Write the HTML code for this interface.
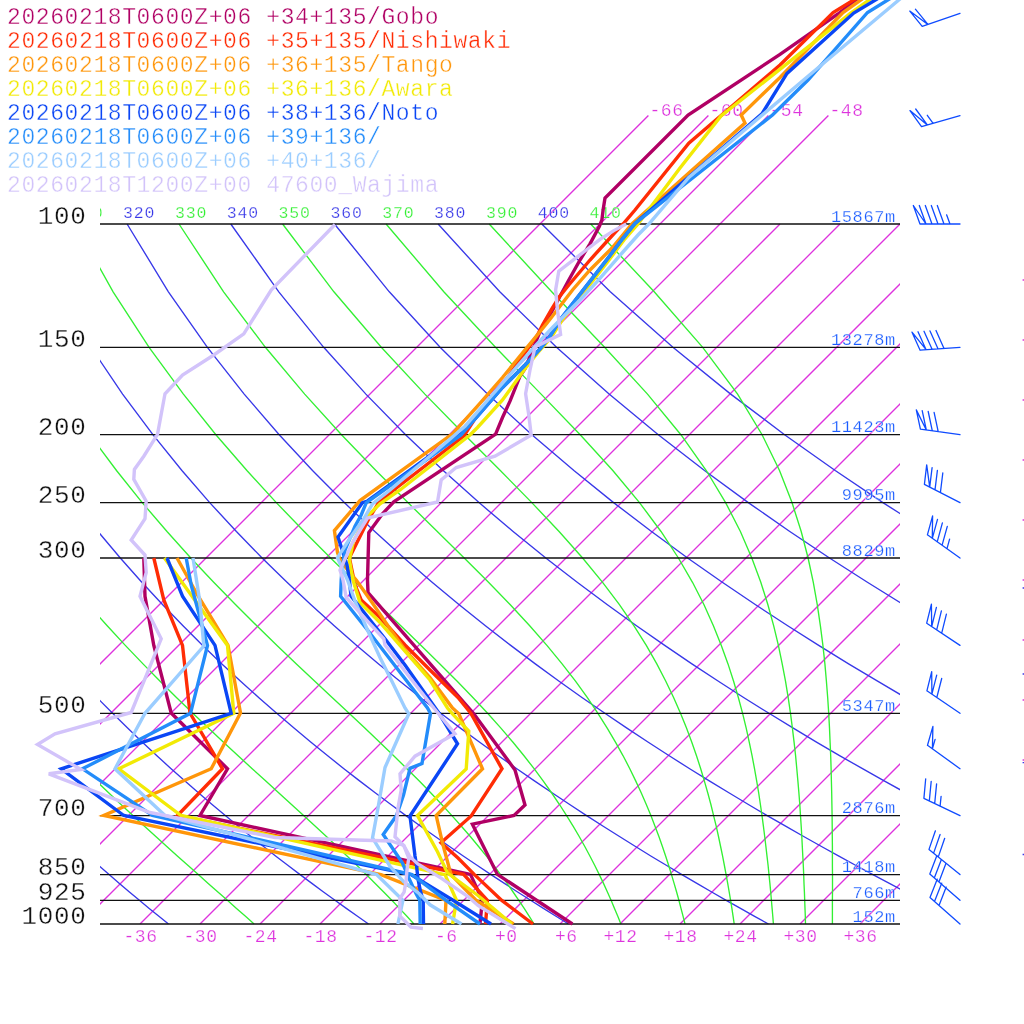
<!DOCTYPE html>
<html lang="en"><head><meta charset="utf-8"><title>Emagram 2026-02-18</title>
<style>html,body{margin:0;padding:0;background:#fff;overflow:hidden}svg{display:block}text{font-family:'Liberation Mono','DejaVu Sans Mono',monospace;}</style></head><body>
<svg width="1024" height="1024" viewBox="0 0 1024 1024">
<defs><clipPath id="cp"><rect x="100" y="0" width="800" height="924.8"/></clipPath></defs>
<rect width="1024" height="1024" fill="#fff"/>
<g font-size="23" letter-spacing="0.6" stroke="#fff" stroke-width="0.4">
<text x="7.0" y="24.4" fill="#b00064" xml:space="preserve">20260218T0600Z+06 +34+135/Gobo</text>
<text x="7.0" y="48.4" fill="#ff2c05" xml:space="preserve">20260218T0600Z+06 +35+135/Nishiwaki</text>
<text x="7.0" y="72.4" fill="#ff960a" xml:space="preserve">20260218T0600Z+06 +36+135/Tango</text>
<text x="7.0" y="96.4" fill="#f2ea05" xml:space="preserve">20260218T0600Z+06 +36+136/Awara</text>
<text x="7.0" y="120.4" fill="#0a46f5" xml:space="preserve">20260218T0600Z+06 +38+136/Noto</text>
<text x="7.0" y="144.4" fill="#238cfa" xml:space="preserve">20260218T0600Z+06 +39+136/</text>
<text x="7.0" y="168.4" fill="#9bcdff" xml:space="preserve">20260218T0600Z+06 +40+136/</text>
<text x="7.0" y="192.4" fill="#d2c3fa" xml:space="preserve">20260218T1200Z+00 47600_Wajima</text>
</g>
<g clip-path="url(#cp)" fill="none">
<path d="M-160,924 L648.4,115.6 M-100,924 L708.4,115.6 M-40,924 L768.4,115.6 M20,924 L828.4,115.6 M80,924 L780,224 M140,924 L840,224 M200,924 L900,224 M260,924 L960,224 M320,924 L1020,224 M380,924 L1080,224 M440,924 L1140,224 M500,924 L1200,224 M560,924 L1260,224 M620,924 L1320,224 M680,924 L1380,224 M740,924 L1440,224 M800,924 L1500,224 M860,924 L1560,224" stroke="#dd33dd" stroke-width="1.35"/>
<path d="M-287.5,224 L-273.6,291.8 L-258.2,347.3 L-242.2,394.1 L-226.1,434.7 L-210.1,470.5 L-194.3,502.6 L-178.7,531.5 L-163.4,558 L-148.4,582.3 L-133.7,604.8 L-119.3,625.8 L-105.2,645.4 L-91.4,663.9 L-77.8,681.2 L-64.6,697.7 L-51.5,713.3 L-38.8,728.1 L-26.2,742.3 L-13.9,755.8 L-1.8,768.7 L10.1,781.1 L21.8,793 L33.3,804.5 L44.6,815.6 L55.8,826.2 L66.8,836.5 L77.6,846.5 L88.3,856.2 L98.8,865.5 L109.1,874.6 L119.4,883.4 L129.4,892 L139.4,900.3 L149.2,908.4 L158.9,916.3 L168.5,924 M-183.9,224 L-163.1,291.8 L-141.8,347.3 L-120.6,394.1 L-99.8,434.7 L-79.4,470.5 L-59.6,502.6 L-40.3,531.5 L-21.6,558 L-3.3,582.3 L14.5,604.8 L31.9,625.8 L48.8,645.4 L65.3,663.9 L81.4,681.2 L97.1,697.7 L112.6,713.3 L127.6,728.1 L142.4,742.3 L156.9,755.8 L171.1,768.7 L185,781.1 L198.7,793 L212.1,804.5 L225.3,815.6 L238.3,826.2 L251,836.5 L263.6,846.5 L275.9,856.2 L288.1,865.5 L300.1,874.6 L311.9,883.4 L323.5,892 L335,900.3 L346.3,908.4 L357.5,916.3 L368.5,924 M-80.2,224 L-52.6,291.8 L-25.4,347.3 L1,394.1 L26.6,434.7 L51.2,470.5 L75,502.6 L98,531.5 L120.3,558 L141.8,582.3 L162.7,604.8 L183,625.8 L202.7,645.4 L221.9,663.9 L240.6,681.2 L258.9,697.7 L276.7,713.3 L294,728.1 L311,742.3 L327.7,755.8 L343.9,768.7 L359.9,781.1 L375.5,793 L390.9,804.5 L405.9,815.6 L420.7,826.2 L435.2,836.5 L449.5,846.5 L463.6,856.2 L477.4,865.5 L491,874.6 L504.4,883.4 L517.6,892 L530.6,900.3 L543.4,908.4 L556,916.3 L568.5,924 M23.5,224 L57.9,291.8 L91,347.3 L122.6,394.1 L152.9,434.7 L181.9,470.5 L209.7,502.6 L236.4,531.5 L262.1,558 L287,582.3 L311,604.8 L334.2,625.8 L356.7,645.4 L378.6,663.9 L399.9,681.2 L420.6,697.7 L440.8,713.3 L460.4,728.1 L479.7,742.3 L498.4,755.8 L516.8,768.7 L534.8,781.1 L552.4,793 L569.7,804.5 L586.6,815.6 L603.2,826.2 L619.5,836.5 L635.5,846.5 L651.2,856.2 L666.7,865.5 L681.9,874.6 L696.9,883.4 L711.7,892 L726.2,900.3 L740.5,908.4 L754.6,916.3 L768.5,924 M127.1,224 L168.4,291.8 L207.4,347.3 L244.2,394.1 L279.2,434.7 L312.5,470.5 L344.3,502.6 L374.8,531.5 L404,558 L432.1,582.3 L459.2,604.8 L485.4,625.8 L510.7,645.4 L535.3,663.9 L559.1,681.2 L582.3,697.7 L604.9,713.3 L626.9,728.1 L648.3,742.3 L669.2,755.8 L689.7,768.7 L709.7,781.1 L729.3,793 L748.4,804.5 L767.2,815.6 L785.6,826.2 L803.7,836.5 L821.5,846.5 L838.9,856.2 L856,865.5 L872.9,874.6 L889.4,883.4 L905.7,892 L921.8,900.3 L937.6,908.4 L953.2,916.3 L968.5,924 M230.8,224 L278.8,291.8 L323.7,347.3 L365.9,394.1 L405.6,434.7 L443.2,470.5 L479,502.6 L513.1,531.5 L545.8,558 L577.2,582.3 L607.4,604.8 L636.5,625.8 L664.7,645.4 L691.9,663.9 L718.4,681.2 L744,697.7 L769,713.3 L793.3,728.1 L816.9,742.3 L840,755.8 L862.5,768.7 L884.6,781.1 L906.1,793 L927.2,804.5 L947.9,815.6 L968.1,826.2 L988,836.5 L1007.4,846.5 L1026.6,856.2 L1045.3,865.5 L1063.8,874.6 L1082,883.4 L1099.8,892 L1117.4,900.3 L1134.7,908.4 L1151.7,916.3 L1168.5,924 M334.5,224 L389.3,291.8 L440.1,347.3 L487.5,394.1 L531.9,434.7 L573.9,470.5 L613.6,502.6 L651.5,531.5 L687.6,558 L722.3,582.3 L755.6,604.8 L787.7,625.8 L818.7,645.4 L848.6,663.9 L877.6,681.2 L905.7,697.7 L933.1,713.3 L959.7,728.1 L985.5,742.3 L1010.8,755.8 L1035.4,768.7 L1059.5,781.1 L1083,793 L1106,804.5 L1128.5,815.6 L1150.6,826.2 L1172.2,836.5 L1193.4,846.5 L1214.2,856.2 L1234.7,865.5 L1254.7,874.6 L1274.5,883.4 L1293.9,892 L1313,900.3 L1331.8,908.4 L1350.3,916.3 L1368.5,924 M438.1,224 L499.8,291.8 L556.5,347.3 L609.1,394.1 L658.3,434.7 L704.5,470.5 L748.3,502.6 L789.8,531.5 L829.5,558 L867.4,582.3 L903.8,604.8 L938.9,625.8 L972.6,645.4 L1005.3,663.9 L1036.8,681.2 L1067.5,697.7 L1097.2,713.3 L1126.1,728.1 L1154.2,742.3 L1181.6,755.8 L1208.3,768.7 L1234.4,781.1 L1259.8,793 L1284.8,804.5 L1309.1,815.6 L1333,826.2 L1356.4,836.5 L1379.4,846.5 L1401.9,856.2 L1424,865.5 L1445.7,874.6 L1467,883.4 L1488,892 L1508.6,900.3 L1528.9,908.4 L1548.8,916.3 L1568.5,924 M541.8,224 L610.3,291.8 L672.9,347.3 L730.7,394.1 L784.6,434.7 L835.2,470.5 L882.9,502.6 L928.2,531.5 L971.3,558 L1012.5,582.3 L1052.1,604.8 L1090,625.8 L1126.6,645.4 L1161.9,663.9 L1196.1,681.2 L1229.2,697.7 L1261.3,713.3 L1292.5,728.1 L1322.8,742.3 L1352.3,755.8 L1381.2,768.7 L1409.3,781.1 L1436.7,793 L1463.5,804.5 L1489.8,815.6 L1515.5,826.2 L1540.7,836.5 L1565.3,846.5 L1589.5,856.2 L1613.3,865.5 L1636.6,874.6 L1659.5,883.4 L1682,892 L1704.2,900.3 L1726,908.4 L1747.4,916.3 L1768.5,924" stroke="#3838e8" stroke-width="1.35"/>
<path d="M-235.7,224 L-218.3,291.8 L-200,347.3 L-181.4,394.1 L-163,434.7 L-144.8,470.5 L-127,502.6 L-109.5,531.5 L-92.5,558 L-75.9,582.3 L-59.6,604.8 L-43.8,625.8 L-28.3,645.4 L-13.1,663.9 L1.7,681.2 L16.1,697.7 L30.3,713.3 L44.1,728.1 L57.7,742.3 L70.9,755.8 L83.9,768.7 L96.5,781.1 L108.9,793 L121,804.5 L132.9,815.6 L144.5,826.2 L155.8,836.5 L166.8,846.5 L177.6,856.2 L188.1,865.5 L198.3,874.6 L208.2,883.4 L217.9,892 L227.4,900.3 L236.5,908.4 L245.5,916.3 L254.1,924 M-132,224 L-107.8,291.8 L-83.6,347.3 L-59.8,394.1 L-36.6,434.7 L-14.1,470.5 L7.7,502.6 L28.8,531.5 L49.3,558 L69.2,582.3 L88.5,604.8 L107.2,625.8 L125.3,645.4 L143,663.9 L160.1,681.2 L176.7,697.7 L192.8,713.3 L208.4,728.1 L223.5,742.3 L238.1,755.8 L252.2,768.7 L265.8,781.1 L278.9,793 L291.5,804.5 L303.6,815.6 L315.3,826.2 L326.4,836.5 L337.1,846.5 L347.3,856.2 L357,865.5 L366.3,874.6 L375.2,883.4 L383.7,892 L391.8,900.3 L399.5,908.4 L406.9,916.3 L413.9,924 M-28.4,224 L2.6,291.8 L32.8,347.3 L61.8,394.1 L89.7,434.7 L116.5,470.5 L142.2,502.6 L167,531.5 L190.8,558 L213.7,582.3 L235.7,604.8 L256.8,625.8 L277,645.4 L296.4,663.9 L314.8,681.2 L332.4,697.7 L349.1,713.3 L364.8,728.1 L379.7,742.3 L393.7,755.8 L406.9,768.7 L419.3,781.1 L430.9,793 L441.8,804.5 L451.9,815.6 L461.4,826.2 L470.3,836.5 L478.6,846.5 L486.4,856.2 L493.8,865.5 L500.6,874.6 L507.1,883.4 L513.1,892 L518.8,900.3 L524.2,908.4 L529.3,916.3 L534.1,924 M75.3,224 L113.1,291.8 L149.1,347.3 L183.4,394.1 L215.9,434.7 L246.9,470.5 L276.3,502.6 L304.2,531.5 L330.6,558 L355.5,582.3 L378.9,604.8 L400.8,625.8 L421.1,645.4 L439.9,663.9 L457.2,681.2 L473.1,697.7 L487.6,713.3 L500.9,728.1 L513,742.3 L524,755.8 L534.1,768.7 L543.3,781.1 L551.7,793 L559.5,804.5 L566.6,815.6 L573.1,826.2 L579.2,836.5 L584.8,846.5 L590,856.2 L594.8,865.5 L599.3,874.6 L603.5,883.4 L607.4,892 L611.1,900.3 L614.5,908.4 L617.8,916.3 L620.9,924 M179,224 L223.6,291.8 L265.4,347.3 L304.7,394.1 L341.5,434.7 L375.9,470.5 L407.9,502.6 L437.3,531.5 L464.2,558 L488.5,582.3 L510.3,604.8 L529.7,625.8 L546.9,645.4 L562.1,663.9 L575.5,681.2 L587.4,697.7 L597.9,713.3 L607.2,728.1 L615.6,742.3 L623.1,755.8 L629.8,768.7 L635.8,781.1 L641.3,793 L646.3,804.5 L650.9,815.6 L655,826.2 L658.9,836.5 L662.4,846.5 L665.7,856.2 L668.7,865.5 L671.5,874.6 L674.1,883.4 L676.6,892 L678.9,900.3 L681,908.4 L683.1,916.3 L685,924 M282.6,224 L333.9,291.8 L381.3,347.3 L424.9,394.1 L464.6,434.7 L500.3,470.5 L531.8,502.6 L559.1,531.5 L582.6,558 L602.6,582.3 L619.6,604.8 L634,625.8 L646.3,645.4 L656.8,663.9 L665.8,681.2 L673.7,697.7 L680.5,713.3 L686.5,728.1 L691.8,742.3 L696.5,755.8 L700.7,768.7 L704.4,781.1 L707.8,793 L710.9,804.5 L713.6,815.6 L716.2,826.2 L718.5,836.5 L720.6,846.5 L722.6,856.2 L724.4,865.5 L726.1,874.6 L727.7,883.4 L729.2,892 L730.6,900.3 L731.9,908.4 L733.1,916.3 L734.2,924 M386.1,224 L443.8,291.8 L495.5,347.3 L541.1,394.1 L580.2,434.7 L612.8,470.5 L639.5,502.6 L661,531.5 L678.4,558 L692.5,582.3 L704,604.8 L713.4,625.8 L721.3,645.4 L728,663.9 L733.6,681.2 L738.4,697.7 L742.6,713.3 L746.2,728.1 L749.3,742.3 L752.1,755.8 L754.5,768.7 L756.7,781.1 L758.7,793 L760.4,804.5 L762,815.6 L763.4,826.2 L764.7,836.5 L765.9,846.5 L767,856.2 L768.1,865.5 L769,874.6 L769.9,883.4 L770.7,892 L771.4,900.3 L772.1,908.4 L772.8,916.3 L773.4,924 M489.2,224 L551.7,291.8 L604.6,347.3 L647.5,394.1 L680.9,434.7 L706.3,470.5 L725.6,502.6 L740.4,531.5 L751.8,558 L760.8,582.3 L767.9,604.8 L773.7,625.8 L778.4,645.4 L782.2,663.9 L785.5,681.2 L788.2,697.7 L790.5,713.3 L792.4,728.1 L794.1,742.3 L795.6,755.8 L796.8,768.7 L797.9,781.1 L798.9,793 L799.8,804.5 L800.5,815.6 L801.2,826.2 L801.8,836.5 L802.3,846.5 L802.8,856.2 L803.3,865.5 L803.7,874.6 L804,883.4 L804.4,892 L804.7,900.3 L805,908.4 L805.3,916.3 L805.5,924 M590.7,224 L654.2,291.8 L702.7,347.3 L737.6,394.1 L762.1,434.7 L779.5,470.5 L792,502.6 L801.2,531.5 L808.1,558 L813.3,582.3 L817.3,604.8 L820.4,625.8 L822.9,645.4 L824.9,663.9 L826.4,681.2 L827.7,697.7 L828.7,713.3 L829.5,728.1 L830.1,742.3 L830.7,755.8 L831.1,768.7 L831.4,781.1 L831.7,793 L831.9,804.5 L832.1,815.6 L832.2,826.2 L832.3,836.5 L832.4,846.5 L832.4,856.2 L832.4,865.5 L832.5,874.6 L832.5,883.4 L832.5,892 L832.4,900.3 L832.4,908.4 L832.4,916.3 L832.4,924" stroke="#33f033" stroke-width="1.35"/>
<g font-size="16.5" letter-spacing="0.8" stroke="#fff" stroke-width="0.25">
<text x="19.5" y="217.5" fill="#3838e8">300</text>
<text x="71.3" y="217.5" fill="#33f033">310</text>
<text x="123.1" y="217.5" fill="#3838e8">320</text>
<text x="175" y="217.5" fill="#33f033">330</text>
<text x="226.8" y="217.5" fill="#3838e8">340</text>
<text x="278.6" y="217.5" fill="#33f033">350</text>
<text x="330.5" y="217.5" fill="#3838e8">360</text>
<text x="382.3" y="217.5" fill="#33f033">370</text>
<text x="434.1" y="217.5" fill="#3838e8">380</text>
<text x="486" y="217.5" fill="#33f033">390</text>
<text x="537.8" y="217.5" fill="#3838e8">400</text>
<text x="589.6" y="217.5" fill="#33f033">410</text>
</g>
</g>
<g font-size="18" letter-spacing="0.6" fill="#dd33dd" stroke="#fff" stroke-width="0.25">
<text x="649.4" y="115.6">-66</text>
<text x="709.4" y="115.6">-60</text>
<text x="769.4" y="115.6">-54</text>
<text x="829.4" y="115.6">-48</text>
<text x="157.7" y="942" text-anchor="end">-36</text>
<text x="217.7" y="942" text-anchor="end">-30</text>
<text x="277.7" y="942" text-anchor="end">-24</text>
<text x="337.7" y="942" text-anchor="end">-18</text>
<text x="397.7" y="942" text-anchor="end">-12</text>
<text x="457.7" y="942" text-anchor="end">-6</text>
<text x="517.7" y="942" text-anchor="end">+0</text>
<text x="577.7" y="942" text-anchor="end">+6</text>
<text x="637.7" y="942" text-anchor="end">+12</text>
<text x="697.7" y="942" text-anchor="end">+18</text>
<text x="757.7" y="942" text-anchor="end">+24</text>
<text x="817.7" y="942" text-anchor="end">+30</text>
<text x="877.7" y="942" text-anchor="end">+36</text>
</g>
<path d="M100,224 H900 M100,347.3 H900 M100,434.7 H900 M100,502.6 H900 M100,558 H900 M100,713.3 H900 M100,815.6 H900 M100,874.6 H900 M100,900.3 H900 M100,924 H900" stroke="#111" stroke-width="1.3" fill="none"/>
<g font-size="26" letter-spacing="0.65" fill="#111" text-anchor="end" stroke="#fff" stroke-width="0.35">
<text x="86.6" y="224">100</text>
<text x="86.6" y="347.3">150</text>
<text x="86.6" y="434.7">200</text>
<text x="86.6" y="502.6">250</text>
<text x="86.6" y="558">300</text>
<text x="86.6" y="713.3">500</text>
<text x="86.6" y="815.6">700</text>
<text x="86.6" y="874.6">850</text>
<text x="86.6" y="900.3">925</text>
<text x="86.6" y="924">1000</text>
</g>
<g font-size="17" letter-spacing="0.6" fill="#1a5cff" text-anchor="end" stroke="#fff" stroke-width="0.25">
<text x="895.8" y="221.5">15867m</text>
<text x="895.8" y="344.8">13278m</text>
<text x="895.8" y="432.2">11423m</text>
<text x="895.8" y="500.1">9995m</text>
<text x="895.8" y="555.5">8829m</text>
<text x="895.8" y="710.8">5347m</text>
<text x="895.8" y="813.1">2876m</text>
<text x="895.8" y="872.1">1418m</text>
<text x="895.8" y="897.8">766m</text>
<text x="895.8" y="921.5">152m</text>
</g>
<g fill="none" stroke-width="3.4" stroke-linejoin="miter" stroke-linecap="butt">
<polyline stroke="#b00064" points="870,-10 856,0 838,14 780,54.4 688.1,115 605,198.1 603.1,210 601.9,220 599.4,226.2 590,243.8 580,260 568.8,280 560,296.2 551.2,312.5 546.2,320 540.6,330 525,368.8 520,376.2 510,401.2 502.5,417.5 495.6,434.2 393.8,501.8 382.5,513.8 368.8,532.5 367.5,580 368,592.5 473.8,713.8 515,770 525,805 514,815.5 472.4,824.2 497.4,874.4 572.4,924"/>
<polyline stroke="#b00064" points="143.8,558 145,596.2 153.8,645.5 171.2,713 227.5,768.8 200,815.5 470.5,874.4 482.4,900.4 479.9,924"/>
<polyline stroke="#ff2c05" points="870,-10 833.1,12.5 780,65 688.8,143.1 635,210 623,224 615,232.5 590,260 568.8,285 558.8,297.5 551.2,310 542.5,325 537.5,335 527,350 503,384 478,414 463.8,436 393.8,490 378.8,502.5 368.8,518.8 349.4,557.8 355,585 361.2,600 380,617.5 405,645 430,670 458,697.5 471.2,713.8 502,768.8 471.2,816 441,842.8 458,858 474.2,874.4 501.8,900.4 533,924"/>
<polyline stroke="#ff2c05" points="153.8,558 163.8,600 182.5,645.4 190,713 222.5,768.8 177.5,815.5 463.6,874.4 487.4,900.4 485.5,924"/>
<polyline stroke="#ff960a" points="875,-10 843,12.5 780,77.5 741.2,115 745,123 694.4,168 631.9,224 612,248 590,270 572.5,290 560,306.2 547.5,322.5 527.5,346.9 502.5,377.5 477.5,406.2 452.5,433.8 360,500.6 334.4,530.6 337.5,552.5 341,562 356.2,580 371.2,601.2 390,628.8 405,650 430,677.5 452.5,708 458.8,713.8 482.5,768.8 436.2,815.6 442.5,843 451,874.6 476,900.3 513.6,924"/>
<polyline stroke="#ff960a" points="177,558 197.5,595 228,645.4 240.5,713 211.2,768.8 103.8,815.5 381,874.6 446,900.3 444.8,924"/>
<polyline stroke="#f2ea05" points="883,-10 850,13.7 721,116 680,168 638,224 624,240 609,260 591.5,282.5 574,305 561.5,321 551.5,337 540,350 525,368.8 502.5,400 477.5,427.5 470,435 400,490 380,503.8 367.5,516 353.5,541 349.4,560 353,580 360,602.5 380,622.5 405,651.2 430,680 447.5,708 452.5,713.8 468.8,731.2 466.2,769 417.5,815.6 437.5,851.8 447.5,873 478,895.5 511.8,924"/>
<polyline stroke="#f2ea05" points="164.5,558 227.5,645.4 233.8,713.3 118.8,768.8 181,815.5 445,874.6 456.5,900.3 452.6,924"/>
<polyline stroke="#0a46f5" points="892,-10 853.7,13.1 787,73.4 761.9,113.8 635,223.5 622.5,238.8 607.5,258.8 590,281.2 572.5,303.8 560,320 550,336.2 540,348.8 525,365 502.5,387.5 477.5,416.2 460,434 367.5,501 362.5,502.6 338,537 347,565 349.4,580 351,596 385,638.8 405,665 439,713.3 457.5,743.8 410,816 415,856 416.6,866 417.9,878.5 420.4,891 423.2,901 423.5,924"/>
<polyline stroke="#0a46f5" points="167,558 182.5,596.2 215,645.4 231.2,713.3 61.2,768.8 123.8,815.5 411,874.6 453,900.3 491,924"/>
<polyline stroke="#238cfa" points="904,-10 867.5,12.5 808,80 772.5,115 635,223.5 622.5,238.8 607.5,258.8 590,281.2 572.5,303.8 560,320 550,336.2 540,348.8 525,365 502.5,387.5 477.5,416.2 461,435 366.2,502.8 361.2,515 355,526.2 345,550 341.9,571.2 341.2,580 340.6,596.2 367.5,630 392.5,662.5 427.5,708 430.5,713.5 422,763.5 410,768.3 403.5,795 396.5,815.6 383.2,834.5 402.5,863 408.8,878 416,893.5 419.8,900.3 420.2,924"/>
<polyline stroke="#238cfa" points="186.2,558 191.2,585 207.5,645.4 190.5,713.3 82.5,768.8 152.5,815.5 412,874.6 446,900.3 480,924"/>
<polyline stroke="#9bcdff" points="910.6,-10 898.8,0 808,76.2 688.8,177.5 648.8,224 638,235 622.5,252.5 597.5,281.2 580,300 566.2,313.8 553,327 535,346.2 515,368.8 490,397.5 465,426.2 447.5,441.2 390,490 372.5,503.8 363.8,518.8 348.8,540 337.5,557.8 347.5,580 355,601.2 367.5,630 380,657.5 392.5,682.5 405,708 408.8,713.8 385,767.5 378,808 372.5,838 389.8,866 403.5,881.6 419,893.5 430,904.8 461.5,924"/>
<polyline stroke="#9bcdff" points="193,558 200,602.5 203.8,646 145,713.3 115,768.8 165,815.5 376.6,874.5 402.9,900.3 397.9,924"/>
<polyline stroke="#d2c3fa" points="626.2,224 613.8,230.6 600,239.4 586.2,250 558.8,271.2 555.6,290 557.5,310 560.6,334.4 535,346.9 530,370 525.6,393.8 528.8,415 531.2,435 495,456.2 456.2,467.5 441.2,480 437.5,502 367.5,518 352.5,542.5 340,570 343,580 346.2,597.5 367.5,621.2 383.8,638.8 385,645 405,671.2 433.8,708 455,733.8 415,756.2 400,773.8 401.2,790 398,808 395,836.8 403.8,845.5 410,856.8 417.8,864 441.5,878.4 468,896.5 478,905.5 515.5,928.6"/>
<polyline stroke="#d2c3fa" points="335,224.5 271.2,290 243.8,333.8 213.8,355 182.5,375 165,393.8 157.5,434.4 143.8,456.2 134.4,469.4 133.8,479.4 146.2,501.2 145,518.8 131.2,540 145,555 146.2,572.5 140,596.2 161.2,638.8 131.2,712.5 55,733.8 37.5,744.5 81,769.5 48.8,773.8 150,812.5 275,837.5 356,840 391.2,841 403.8,845.5 408.8,858 407,870 406,881.6 404.1,892.2 399.8,898.5 399.8,916 411,927.2 422.9,928.5"/>
</g>
<path d="M1022.6,280 H1024 M1022.6,340 H1024 M1022.6,400 H1024 M1022.6,460 H1024 M1022.6,520 H1024 M1022.6,580 H1024 M1022.6,640 H1024 M1022.6,700 H1024 M1022.6,760 H1024" stroke="#dd33dd" stroke-width="1.4" fill="none"/>
<path d="M1022.6,588 H1024 M1022.6,674 H1024 M1022.6,762.6 H1024 M1022.6,854.5 H1024" stroke="#3838e8" stroke-width="1.4" fill="none"/>
<g fill="none" stroke="#0f4bff" stroke-width="1.3" stroke-linecap="round" stroke-linejoin="round">
<path d="M960.0,13.3 L922.2,26.4 M922.2,26.4 L909.8,11.1 L927.9,24.4 M927.9,24.4 L915.4,9.2"/>
<path d="M960.0,115.6 L921.5,126.6 M921.5,126.6 L910.0,110.6 L927.3,124.9 M927.3,124.9 L915.7,109.0 M933.1,123.3 L927.3,115.3"/>
<path d="M960.0,224.0 L920.0,224.0 M920.0,224.0 L913.3,205.5 L926.0,224.0 M926.0,224.0 L919.3,205.5 M932.0,224.0 L925.3,205.5 M938.0,224.0 L931.3,205.5 M944.0,224.0 L937.3,205.5 M950.0,224.0 L946.6,214.8"/>
<path d="M960.0,347.3 L920.1,350.2 M920.1,350.2 L912.0,332.2 L926.1,349.7 M926.1,349.7 L918.0,331.8 M932.1,349.3 L924.0,331.3 M938.1,348.9 L930.0,330.9 M944.0,348.4 L936.0,330.5"/>
<path d="M960.0,434.7 L920.4,429.1 M920.4,429.1 L916.3,409.9 L926.3,430.0 M926.3,430.0 L922.2,410.7 M932.3,430.8 L928.2,411.5 M938.2,431.6 L934.1,412.4"/>
<path d="M960.0,502.6 L924.4,484.4 M924.4,484.4 L926.7,464.9 L929.7,487.1 M929.7,487.1 L932.1,467.6 M935.0,489.9 L937.4,470.3 M940.4,492.6 L942.8,473.0"/>
<path d="M960.0,558.0 L927.4,534.8 M927.4,534.8 L932.6,515.8 L932.3,538.3 M932.3,538.3 L937.5,519.3 M937.2,541.8 L942.4,522.8 M942.1,545.2 L947.3,526.3 M947.0,548.7 L949.6,539.2"/>
<path d="M960.0,645.4 L926.7,623.2 M926.7,623.2 L931.4,604.1 L931.7,626.6 M931.7,626.6 L936.4,607.4 M936.7,629.9 L941.4,610.8 M941.7,633.2 L946.4,614.1"/>
<path d="M960.0,713.3 L926.9,690.8 M926.9,690.8 L931.7,671.7 L931.9,694.2 M931.9,694.2 L936.7,675.1 M936.8,697.5 L941.7,678.5"/>
<path d="M960.0,768.7 L927.5,745.3 M927.5,745.3 L932.9,726.4 L932.4,748.8 M932.4,748.8 L935.1,739.4"/>
<path d="M960.0,815.6 L923.9,798.4 M923.9,798.4 L925.7,778.8 M929.3,801.0 L931.2,781.4 M934.7,803.5 L936.6,783.9 M940.1,806.1 L941.1,796.3"/>
<path d="M960.0,874.6 L929.0,849.4 M929.0,849.4 L935.4,830.8 M933.6,853.1 L940.1,834.5 M938.3,856.9 L944.7,838.3"/>
<path d="M960.0,900.3 L929.8,874.1 M929.8,874.1 L936.8,855.7 M934.3,878.0 L941.4,859.6 M938.9,881.9 L945.9,863.6"/>
<path d="M960.0,924.0 L930.0,897.5 M930.0,897.5 L937.2,879.2 M934.5,901.5 L941.7,883.2 M939.0,905.5 L946.2,887.1"/>
</g>
</svg></body></html>
